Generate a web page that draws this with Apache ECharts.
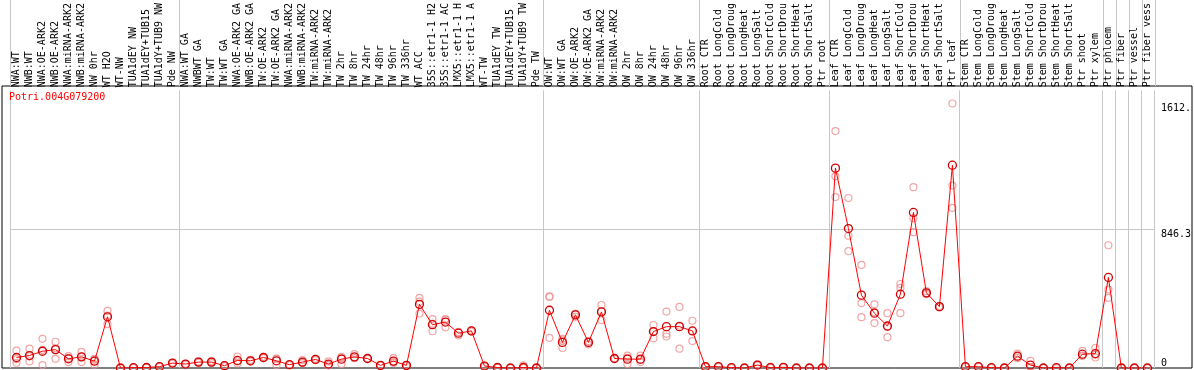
<!DOCTYPE html>
<html>
<head>
<meta charset="utf-8">
<script src="https://cdn.jsdelivr.net/npm/echarts@6/dist/echarts.min.js"></script>
<style>
  html, body { margin: 0; padding: 0; background: #fff; }
  #chart { width: 1194px; height: 370px; }
</style>
</head>
<body>
<div id="chart"></div>
<script>
const geneName = 'Potri.004G079200'

const samples = [
  'NWA:WT', 'NWB:WT', 'NWA:OE-ARK2', 'NWB:OE-ARK2', 'NWA:miRNA-ARK2', 'NWB:miRNA-ARK2', 'NW 0hr',
  'WT H2O', 'WT-NW', 'TUA1dEY NW', 'TUA1dEY+TUB15', 'TUA1dY+TUB9 NW', 'Pde NW',
  'NWA:WT GA', 'NWBWT GA', 'TW:WT', 'TW:WT GA', 'NWA:OE-ARK2 GA', 'NWB:OE-ARK2 GA', 'TW:OE-ARK2',
  'TW:OE-ARK2 GA', 'NWA:miRNA-ARK2', 'NWB:miRNA-ARK2', 'TW:miRNA-ARK2', 'TW:miRNA-ARK2',
  'TW 2hr', 'TW 8hr', 'TW 24hr', 'TW 48hr', 'TW 96hr', 'TW 336hr', 'WT ACC',
  '35S::etr1-1 H2', '35S::etr1-1 AC', 'LMX5::etr1-1 H', 'LMX5::etr1-1 A', 'WT-TW',
  'TUA1dEY TW', 'TUA1dEY+TUB15', 'TUA1dY+TUB9 TW', 'Pde TW',
  'OW:WT', 'OW:WT GA', 'OW:OE-ARK2', 'OW:OE-ARK2 GA', 'OW:miRNA-ARK2', 'OW:miRNA-ARK2',
  'OW 2hr', 'OW 8hr', 'OW 24hr', 'OW 48hr', 'OW 96hr', 'OW 336hr',
  'Root CTR', 'Root LongCold', 'Root LongDroug', 'Root LongHeat', 'Root LongSalt',
  'Root ShortCold', 'Root ShortDrou', 'Root ShortHeat', 'Root ShortSalt', 'Ptr root',
  'Leaf CTR', 'Leaf LongCold', 'Leaf LongDroug', 'Leaf LongHeat', 'Leaf LongSalt',
  'Leaf ShortCold', 'Leaf ShortDrou', 'Leaf ShortHeat', 'Leaf ShortSalt', 'Ptr leaf',
  'Stem CTR', 'Stem LongCold', 'Stem LongDroug', 'Stem LongHeat', 'Stem LongSalt',
  'Stem ShortCold', 'Stem ShortDrou', 'Stem ShortHeat', 'Stem ShortSalt', 'Ptr shoot', 'Ptr xylem',
  'Ptr phloem', 'Ptr fiber', 'Ptr vessel', 'Ptr fiber vess'
]

// index of the first sample of each block (gray separators)
const groupStarts = [0, 13, 41, 53, 63, 73, 84, 85, 86, 87]

const meanExpr = [
  64, 76, 102, 112, 56, 68, 42, 312, 0, 2, 3, 8, 30,
  24, 36, 36, 14, 46, 44, 64, 44, 20, 36, 52, 24, 54, 68, 58, 16, 42, 16, 388, 264, 280, 212, 226, 12, 3, 0, 3, 0,
  352, 156, 324, 156, 342, 58, 54, 54, 222, 252, 252, 226,
  8, 8, 2, 0, 18, 2, 4, 0, 0, 0,
  1218, 850, 444, 334, 256, 450, 948, 458, 374, 1236,
  8, 8, 2, 0, 72, 18, 0, 2, 0, 84, 88,
  552, 0, 0, 0
]

const rep1 = [
  106, 118, 178, 160, 72, 98, 56, 348, 0, 2, 3, 10, 32,
  26, 40, 42, 16, 70, 50, 68, 58, 22, 48, 56, 40, 68, 84, 58, 16, 60, 16, 428, 298, 298, 198, 226, 12, 3, 0, 16, 0,
  434, 122, 312, 144, 384, 58, 76, 76, 262, 344, 372, 288,
  12, 8, 2, 0, 22, 8, 4, 0, 0, 0,
  1444, 1036, 628, 388, 334, 512, 1102, 468, 374, 1612,
  8, 8, 2, 2, 88, 44, 0, 2, 0, 104, 122,
  748, 0, 0, 0
]

const rep2 = [
  32, 40, 18, 56, 36, 36, 20, 268, 0, 1, 2, 6, 26,
  22, 32, 30, 12, 28, 40, 60, 18, 18, 30, 48, 16, 24, 60, 56, 14, 36, 14, 332, 224, 248, 220, 222, 10, 2, 0, 0, 0,
  184, 178, 330, 160, 292, 56, 24, 36, 182, 208, 118, 164,
  6, 6, 1, 0, 16, 1, 3, 0, 0, 0,
  1168, 806, 396, 274, 188, 488, 912, 450, 370, 1112,
  6, 6, 1, 0, 70, 6, 0, 1, 0, 74, 64,
  478, 0, 0, 0
]

const rep3 = [
  54, 70, 110, 120, 60, 70, 50, 320, 0, 3, 4, 8, 30,
  24, 36, 36, 14, 40, 44, 64, 56, 20, 34, 52, 20, 60, 62, 60, 18, 30, 18, 404, 270, 294, 218, 230, 14, 4, 0, 3, 0,
  436, 168, 330, 164, 346, 60, 62, 50, 222, 192, 258, 226,
  8, 10, 3, 0, 18, 2, 5, 0, 0, 0,
  1042, 712, 310, 340, 250, 334, 828, 456, 378, 976,
  10, 10, 3, 0, 60, 4, 0, 3, 0, 76, 80,
  428, 0, 0, 0
]

const axisMax = 1692.6
const midTick = 846.3
const topTick = 1612

const mono = 'DejaVu Sans Mono'
const sepLine = { show: true, interval: (idx) => groupStarts.includes(idx), lineStyle: { color: '#c8c8c8', width: 1 } }

function repSeries(data) {
  return {
    type: 'scatter',
    xAxisIndex: 0,
    yAxisIndex: 0,
    data: data,
    symbol: 'circle',
    symbolSize: 7,
    z: 2,
    itemStyle: {
      color: 'rgba(255,255,255,0)',
      borderColor: '#ec9090',
      borderWidth: 1.2
    }
  }
}

const chart = echarts.init(document.getElementById('chart'), null, { renderer: 'canvas' })

chart.setOption({
  animation: false,
  backgroundColor: '#fff',
  title: {
    text: geneName,
    left: 9,
    top: 92,
    padding: 0,
    textStyle: { fontFamily: mono, fontSize: 10, fontWeight: 'normal', color: '#ff0000' }
  },
  grid: [
    { left: 10, right: 39, top: 86, bottom: 2 },             // data
    { left: 10, right: 39, top: 0, height: 86 },             // label strip
    { left: 2, right: 2, top: 86, bottom: 2, show: true, borderColor: '#000', borderWidth: 1, backgroundColor: 'transparent' } // frame
  ],
  xAxis: [
    {
      gridIndex: 0,
      type: 'category',
      data: samples,
      position: 'top',
      boundaryGap: true,
      axisLine: { show: false },
      axisTick: { show: false },
      axisLabel: {
        interval: 0,
        rotate: 90,
        margin: 3,
        fontFamily: mono,
        fontSize: 10,
        color: '#000'
      },
      splitLine: sepLine
    },
    {
      gridIndex: 1,
      type: 'category',
      data: samples,
      axisLine: { show: false },
      axisTick: { show: false },
      axisLabel: { show: false },
      splitLine: sepLine
    },
    { gridIndex: 2, type: 'value', show: false }
  ],
  yAxis: [
    {
      gridIndex: 0,
      type: 'value',
      position: 'right',
      min: 0,
      max: axisMax,
      interval: midTick,
      axisLine: { show: false },
      axisTick: { show: false },
      splitLine: { show: true, showMinLine: false, showMaxLine: false, lineStyle: { color: '#c8c8c8', width: 1 } },
      axisLabel: {
        margin: 7,
        verticalAlign: 'top',
        fontFamily: mono,
        fontSize: 10,
        color: '#000',
        formatter: v => Math.abs(v - midTick) < 0.01 ? '846.3' : ''
      }
    },
    {
      gridIndex: 0,
      type: 'value',
      position: 'right',
      min: 0,
      max: axisMax,
      interval: topTick,
      axisLine: { show: false },
      axisTick: { show: false },
      splitLine: { show: false },
      axisLabel: {
        margin: 7,
        verticalAlign: 'top',
        fontFamily: mono,
        fontSize: 10,
        color: '#000',
        formatter: v => v === topTick ? '1612.' : ''
      }
    },
    {
      gridIndex: 0,
      type: 'value',
      position: 'right',
      min: 0,
      max: axisMax,
      interval: axisMax,
      axisLine: { show: false },
      axisTick: { show: false },
      splitLine: { show: false },
      axisLabel: {
        margin: 7,
        verticalAlign: 'bottom',
        fontFamily: mono,
        fontSize: 10,
        color: '#000',
        formatter: v => v === 0 ? '0' : ''
      }
    },
    { gridIndex: 1, type: 'value', show: false },
    { gridIndex: 2, type: 'value', show: false }
  ],
  series: [
    repSeries(rep1),
    repSeries(rep2),
    repSeries(rep3),
    {
      type: 'line',
      name: geneName,
      xAxisIndex: 0,
      yAxisIndex: 0,
      data: meanExpr,
      symbol: 'circle',
      symbolSize: 8,
      showAllSymbol: true,
      z: 3,
      lineStyle: { color: '#ff0000', width: 1 },
      itemStyle: { color: 'rgba(255,255,255,0)', borderColor: '#d00000', borderWidth: 1.3 }
    }
  ]
})
</script>
</body>
</html>
